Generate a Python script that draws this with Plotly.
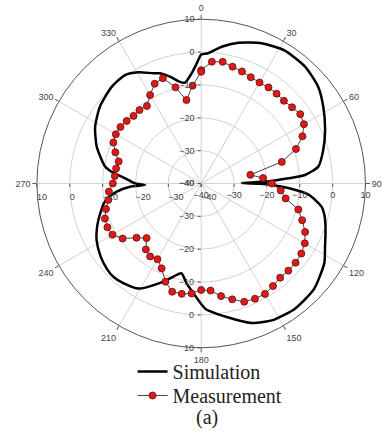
import plotly.graph_objects as go

# Simulated pattern (dB) at the listed azimuth angles (deg)
sim_theta = [0, 3, 8.5, 14.8, 23.3, 32, 41.6, 50.4, 57.8, 66.6, 74.7, 81.8, 85.3, 86.6,
             88.3, 89.3, 90.3, 91.2, 93, 96, 100.9, 104, 107.8, 112, 117, 122.8, 133, 143,
             152, 160, 168.5, 178, 184, 188.3, 192.3, 195, 198.2, 203, 210.7, 218, 223.3,
             228, 234.1, 241.6, 246, 250.5, 255, 258.6, 261.5, 264.5, 267.4, 268.5, 270,
             273.9, 277.5, 280, 289.4, 298.1, 307.2, 317.2, 324.9, 330.5, 336.5, 339.5,
             343.7, 348.2, 350.9, 355.1, 357.9, 360]
sim_db = [-0.7, -0.3, 2.1, 4.3, 6.5, 7.8, 7.6, 6.2, 3.9, 1.1, -1.5, -4.0, -8.3, -13.4,
          -20.0, -27.7, -22.0, -18.5, -13.5, -7.0, -2.7, -1.4, -0.3, 0.8, 2.3, 4.6, 7.0,
          7.6, 7.0, 5.2, 1.6, -1.8, -6.5, -9.3, -12.0, -11.2, -9.6, -7.0, -2.8, -1.5,
          -1.0, -1.3, -2.2, -3.8, -5.2, -6.8, -8.5, -9.8, -11.5, -14.2, -18.3, -22.9,
          -19.9, -16.8, -12.5, -10.3, -6.3, -3.4, -1.3, 0.1, 0.35, -1.1, -3.4, -4.2,
          -6.1, -8.4, -8.9, -6.3, -3.4, -0.7]

# Measured pattern (dB), sampled every 5 deg from 0 to 360
meas_theta = list(range(0, 361, 5))
meas_db = [-5.5, -2.8, -2.4, -3.2, -3.7, -4.3, -4.5, -4.3, -4.3, -4.4, -3.9, -3.2,
           -3.9, -6.0, -9.3, -14.6, -24.8, -21.1, -18.5, -15.7, -13.9, -9.4, -7.3, -5.1,
           -3.6, -2.8, -2.5, -2.5, -2.6, -1.9, -1.2, -1.3, -1.7, -3.5, -5.2, -7.3,
           -7.6, -6.4, -5.9, -5.9, -8.2, -11.5, -13.4, -12.9, -13.8, -16.5, -14.3, -10.8,
           -8.8, -8.5, -8.8, -10.0, -11.3, -11.8, -13.1, -13.6, -13.7, -14.0, -12.2, -10.5,
           -10.0, -10.0, -10.4, -10.9, -10.8, -11.2, -8.9, -6.5, -5.9, -9.7, -14.2, -10.1,
           -6.0]

r_range = [-40, 10]
r_ticks = [-40, -30, -20, -10, 0, 10]
ang_ticks = list(range(0, 360, 30))

tick_font = dict(family="Liberation Sans, Arial, sans-serif", size=9, color="#444")
serif = "Liberation Serif, Times New Roman, serif"

fig = go.Figure()

fig.add_trace(go.Scatterpolar(
    r=sim_db, theta=sim_theta, mode="lines", name="Simulation",
    line=dict(color="black", width=2.5, shape="spline", smoothing=0.6),
    subplot="polar", legend="legend",
))
fig.add_trace(go.Scatterpolar(
    r=meas_db, theta=meas_theta, mode="lines+markers", name="Measurement",
    line=dict(color="#444", width=1),
    marker=dict(size=7, color="#e01818", line=dict(color="#5a1010", width=0.8)),
    subplot="polar", legend="legend2",
))

# extra radial scales drawn along the other three spokes
for sp in ["polar2", "polar3", "polar4"]:
    fig.add_trace(go.Scatterpolar(r=[], theta=[], subplot=sp, showlegend=False))

dom = dict(x=[0.0966, 0.9568], y=[0.2237, 0.9571])
leg_common = dict(
    xanchor="left", yanchor="top",
    font=dict(family=serif, size=20, color="#222"),
    bgcolor="rgba(0,0,0,0)",
)

fig.update_layout(
    width=382, height=448,
    margin=dict(l=0, r=0, t=0, b=0),
    paper_bgcolor="white",
    showlegend=True,
    legend=dict(x=0.347, y=0.2143, **leg_common),
    legend2=dict(x=0.347, y=0.1607, **leg_common),
    polar=dict(
        domain=dom, bgcolor="white",
        angularaxis=dict(
            rotation=90, direction="clockwise",
            tickmode="array", tickvals=ang_ticks, ticktext=[str(a) for a in ang_ticks],
            showline=True, linecolor="#555", linewidth=1,
            gridcolor="#d2d2d2", gridwidth=1,
            ticks="outside", ticklen=4, tickcolor="#555",
            tickfont=tick_font,
        ),
        radialaxis=dict(
            range=r_range, tickvals=r_ticks, angle=90, tickangle=90,
            side="counterclockwise",
            gridcolor="#d2d2d2", gridwidth=1, showline=False,
            ticks="outside", ticklen=3, tickcolor="#555",
            tickfont=tick_font,
        ),
    ),
)

for sp, ang, tang, side in [("polar2", 0, 0, "clockwise"),
                            ("polar3", 180, 180, "counterclockwise"),
                            ("polar4", 270, -90, "clockwise")]:
    fig.update_layout({sp: dict(
        domain=dom, bgcolor="rgba(0,0,0,0)",
        angularaxis=dict(visible=False, rotation=90, direction="clockwise"),
        radialaxis=dict(
            range=r_range, tickvals=r_ticks, angle=ang, tickangle=tang, side=side,
            showgrid=False, showline=False,
            ticks="outside", ticklen=3, tickcolor="#555",
            tickfont=tick_font,
        ),
    )})

fig.add_annotation(
    text="(a)", x=207 / 382, y=1 - 431 / 448, xref="paper", yref="paper",
    showarrow=False, font=dict(family=serif, size=20, color="#222"),
)

fig.write_html("out.html")
